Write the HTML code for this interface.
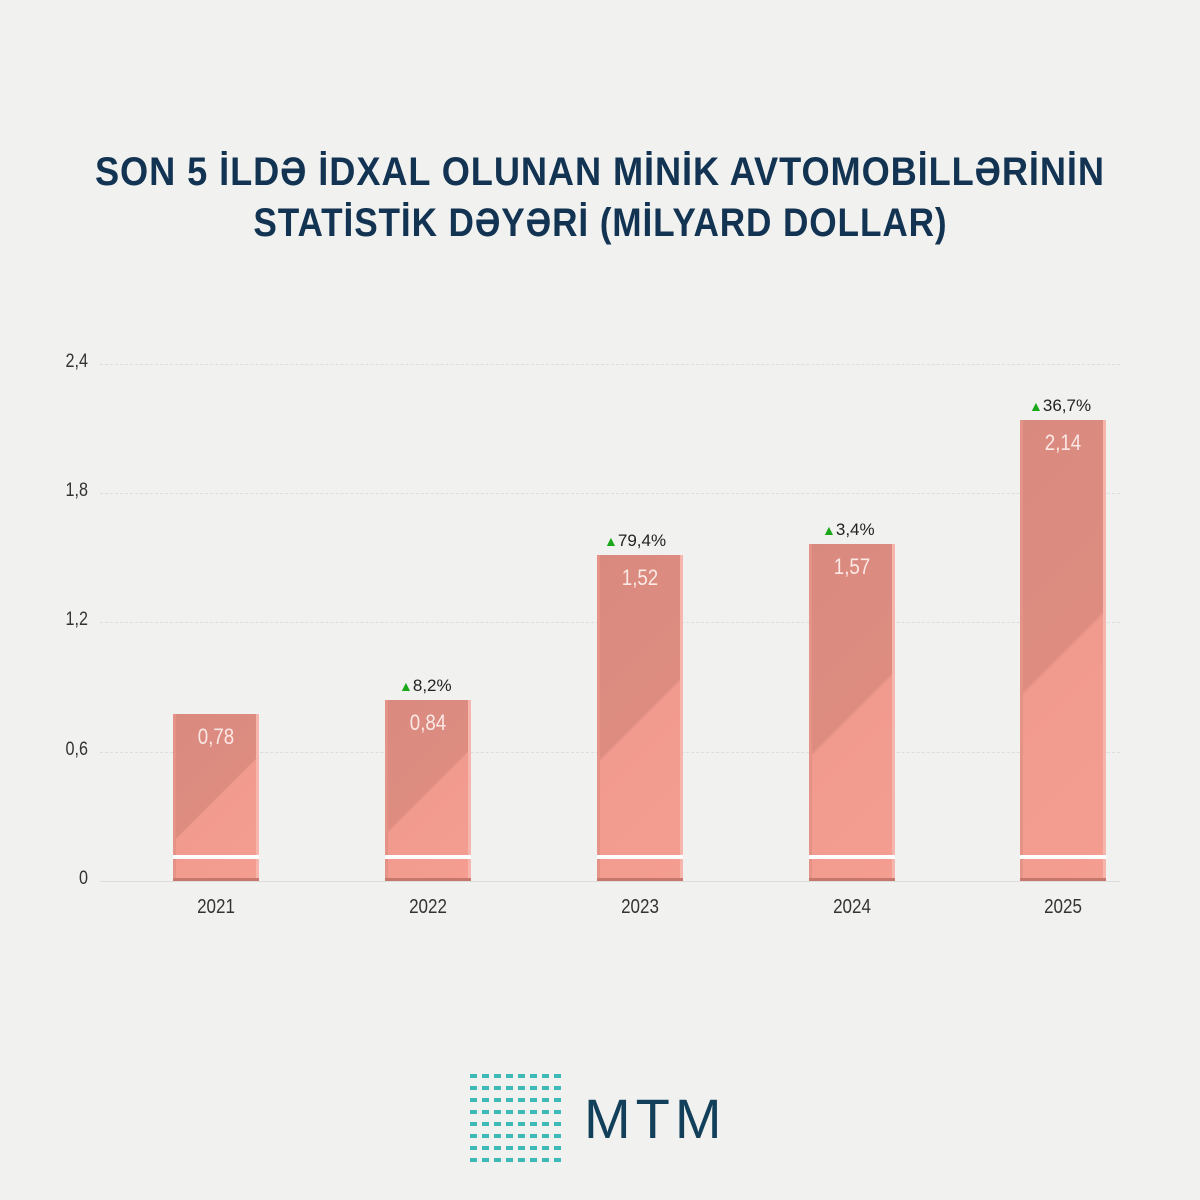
<!DOCTYPE html>
<html><head><meta charset="utf-8"><style>
body{margin:0;width:1200px;height:1200px;background:#f1f1f0;position:relative;overflow:hidden;font-family:"Liberation Sans",sans-serif}
.t{position:absolute;left:0;width:1200px;text-align:center;color:#123452;font-weight:bold;font-size:40px;letter-spacing:1px;white-space:nowrap}
.t span{display:inline-block;transform:scaleX(0.9)}
.yl{position:absolute;left:40px;width:48px;text-align:right;font-size:19px;color:#333;transform:scaleX(.85);transform-origin:right}
.g{position:absolute;left:100px;width:1020px;height:0;border-top:1px dashed #ddd}
.bar{position:absolute;width:86px;background:linear-gradient(135deg,#d98a7f 0%,#de8c80 50%,#f19a8e 51%,#f49d91 100%);box-shadow:inset -3px 0 0 #f7b6ad,inset 3px 0 0 #e59287;}
.bar .gap{position:absolute;left:0;right:0;height:4px;background:#fff;bottom:22px}
.bar .v{position:absolute;top:10px;width:100%;text-align:center;color:#fbe9e6;font-size:22px;transform:scaleX(.85)}
.bar .bot{position:absolute;left:0;right:0;bottom:0;height:3px;background:#c7776c}
.p{position:absolute;font-size:17px;color:#222;white-space:nowrap}
.p b{color:#1aa81a;font-size:14px;font-weight:normal}
.x{position:absolute;top:896px;width:100px;text-align:center;font-size:20px;color:#333;transform:scaleX(.85)}
</style></head><body>
<div class="t" style="top:150px"><span style="transform:scaleX(0.905)">SON 5 İLDƏ İDXAL OLUNAN MİNİK AVTOMOBİLLƏRİNİN</span></div>
<div class="t" style="top:201px"><span style="transform:scaleX(0.88)">STATİSTİK DƏYƏRİ (MİLYARD DOLLAR)</span></div>

<div class="g" style="top:364px"></div><div class="g" style="top:493px"></div><div class="g" style="top:622px"></div><div class="g" style="top:752px"></div><div class="g" style="top:881px;border-top:1px solid #ddd"></div>
<div class="yl" style="top:351px">2,4</div>
<div class="yl" style="top:480px">1,8</div>
<div class="yl" style="top:609px">1,2</div>
<div class="yl" style="top:739px">0,6</div>
<div class="yl" style="top:868px">0</div>

<div class="bar" style="left:173px;top:714px;height:167px"><div class="v">0,78</div><div class="gap"></div><div class="bot"></div></div>
<div class="bar" style="left:385px;top:700px;height:181px"><div class="v">0,84</div><div class="gap"></div><div class="bot"></div></div>
<div class="bar" style="left:597px;top:555px;height:326px"><div class="v">1,52</div><div class="gap"></div><div class="bot"></div></div>
<div class="bar" style="left:809px;top:544px;height:337px"><div class="v">1,57</div><div class="gap"></div><div class="bot"></div></div>
<div class="bar" style="left:1020px;top:420px;height:461px"><div class="v">2,14</div><div class="gap"></div><div class="bot"></div></div>

<div class="p" style="left:399px;top:676px"><b>▲</b>8,2%</div>
<div class="p" style="left:604px;top:531px"><b>▲</b>79,4%</div>
<div class="p" style="left:822px;top:520px"><b>▲</b>3,4%</div>
<div class="p" style="left:1029px;top:396px"><b>▲</b>36,7%</div>

<div class="x" style="left:166px">2021</div>
<div class="x" style="left:378px">2022</div>
<div class="x" style="left:590px">2023</div>
<div class="x" style="left:802px">2024</div>
<div class="x" style="left:1013px">2025</div>

<svg style="position:absolute;left:468px;top:1072px" width="96" height="98" viewBox="0 0 96 98">
<g stroke="#2bb5b0" stroke-width="4" stroke-dasharray="7 5" opacity=".9">
<line x1="2" y1="4" x2="94" y2="4"/><line x1="2" y1="16" x2="94" y2="16"/><line x1="2" y1="28" x2="94" y2="28"/><line x1="2" y1="40" x2="94" y2="40"/>
<line x1="2" y1="52" x2="94" y2="52"/><line x1="2" y1="64" x2="94" y2="64"/><line x1="2" y1="76" x2="94" y2="76"/><line x1="2" y1="88" x2="94" y2="88"/>
</g></svg>
<div style="position:absolute;left:584px;top:1086px;font-size:56px;color:#123f5a;letter-spacing:5px">MTM</div>
</body></html>
